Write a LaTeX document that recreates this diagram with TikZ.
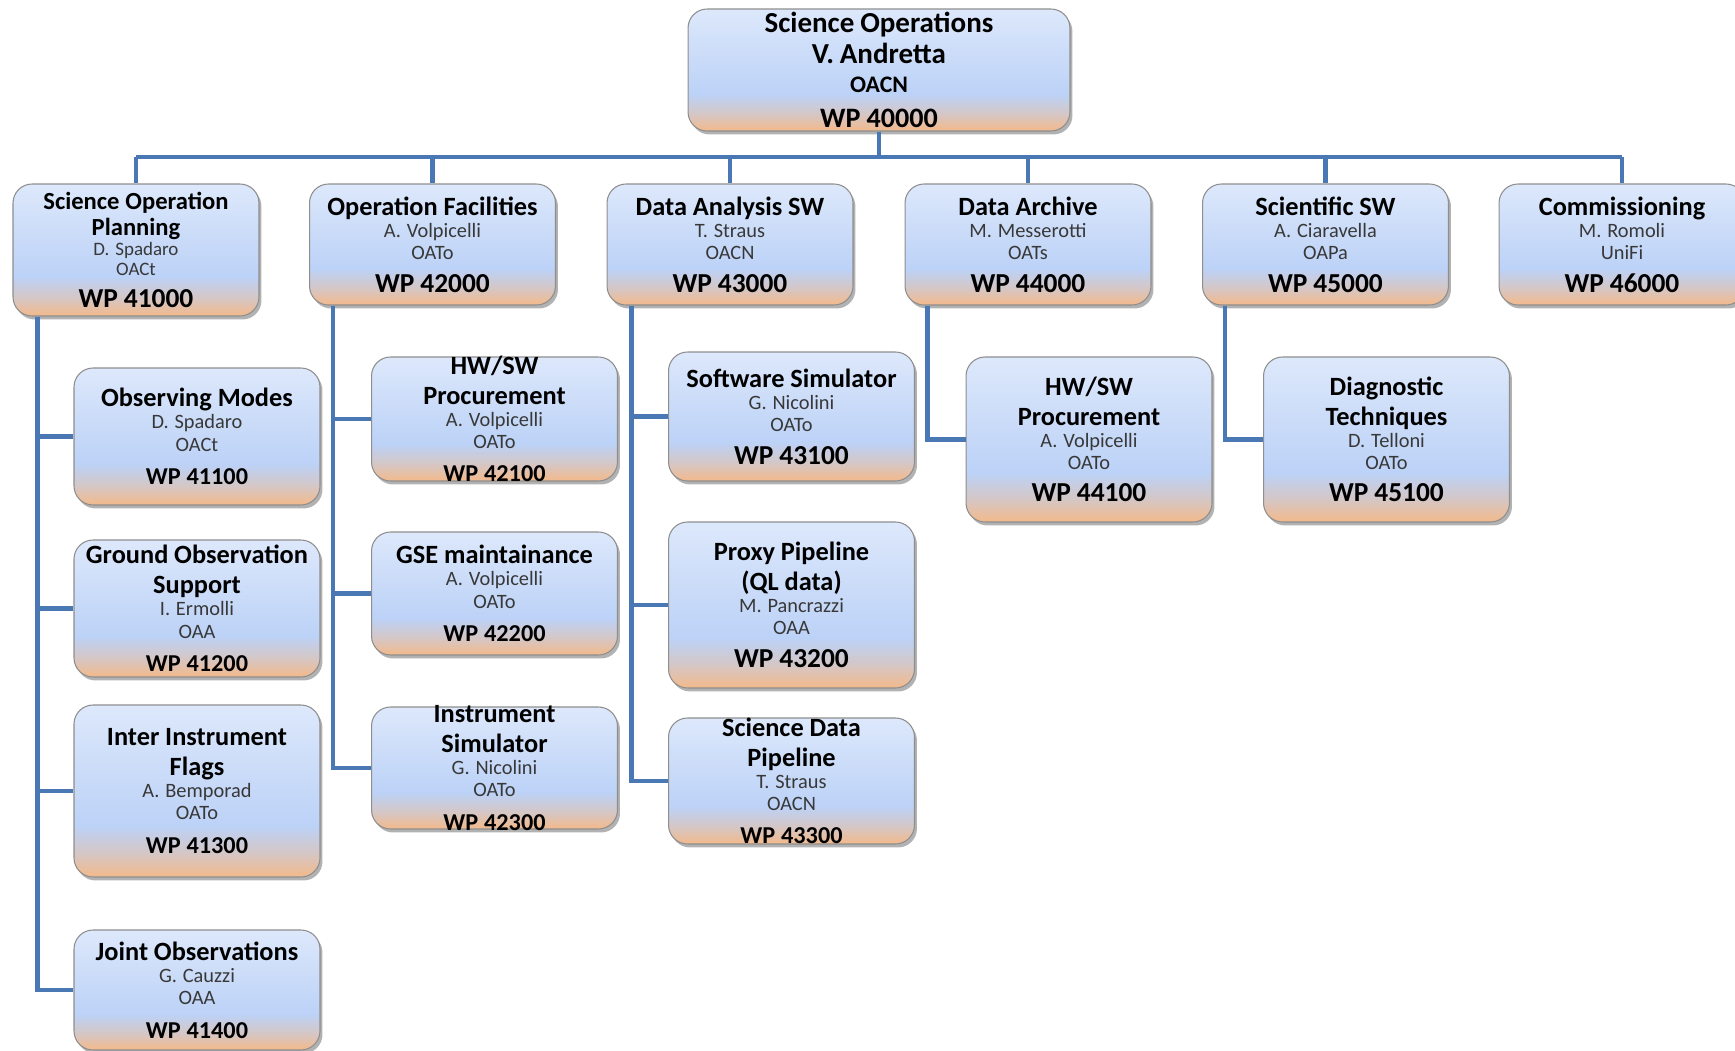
\documentclass[tikz,border=0pt]{standalone}
\usepackage{fontspec}
\setmainfont{Carlito}
\usetikzlibrary{shadows}
\definecolor{blu0}{HTML}{DDE8FB}
\definecolor{blu1}{HTML}{BCD2F7}
\definecolor{orng}{HTML}{F3B98A}
\definecolor{linkblue}{HTML}{4A78B5}
\definecolor{rim}{HTML}{8E8E8E}
\pgfdeclareverticalshading{wpfill}{100bp}{color(0bp)=(orng); color(25bp)=(orng); color(32bp)=(orng!45!blu1); color(40bp)=(blu1); color(75bp)=(blu0); color(100bp)=(blu0)}
% fonts
\newcommand\topttl{\fontsize{16.5}{17.8}\selectfont\bfseries}
\newcommand\topsub{\fontsize{13.5}{16.2}\selectfont\bfseries}
\newcommand\topwp{\fontsize{16}{20}\selectfont\bfseries}
\newcommand\ttl{\fontsize{15}{17}\selectfont\bfseries}
\newcommand\ttls{\fontsize{14}{14.8}\selectfont\bfseries}
\newcommand\nme{\fontsize{11.6}{12.6}\selectfont\color{black!78}}
\newcommand\nms{\fontsize{10.8}{11.4}\selectfont\color{black!78}}
\newcommand\wpa{\fontsize{15.6}{18.5}\selectfont\bfseries}
\newcommand\wpb{\fontsize{13.8}{19}\selectfont\bfseries}
\tikzset{
  unit/.style={draw=rim,line width=.6pt,rounded corners=.38cm,shading=wpfill,
    minimum width=4.92cm,inner sep=0pt,
    drop shadow={shadow xshift=.05cm,shadow yshift=-.07cm,opacity=.3,fill=black}},
  unittext/.style={text width=4.92cm,align=center,inner sep=0pt},
  link/.style={draw=linkblue,line width=2.3pt}
}
\newcommand\wpunit[4]{%
  \node[unit,minimum height=#3](#1)at(#2){};
  \node[unittext](#1-t)at(#1.center){#4};}
\begin{document}
\begin{tikzpicture}[x=.02cm,y=-.02cm]
\useasboundingbox(0,0)rectangle(1735,1051);
% top
\node[unit,minimum width=7.64cm,minimum height=2.44cm](so)at(879,70){};
\node[unittext,text width=7.64cm](so-t)at(so.center){{\topttl Science Operations\\V. Andretta\par}{\topsub OACN\par}{\topwp WP 40000\par}};
% first level
\wpunit{sop}{136,250}{2.64cm}{{\ttls Science Operation\\Planning\par}{\nms D. Spadaro\\OACt\par}{\wpa WP 41000\par}}
\wpunit{of}{432.5,244.5}{2.42cm}{{\ttl Operation Facilities\par}{\nme A. Volpicelli\\OATo\par}{\wpa WP 42000\par}}
\wpunit{das}{730,244.5}{2.42cm}{{\ttl Data Analysis SW\par}{\nme T. Straus\\OACN\par}{\wpa WP 43000\par}}
\wpunit{da}{1028,244.5}{2.42cm}{{\ttl Data Archive\par}{\nme M. Messerotti\\OATs\par}{\wpa WP 44000\par}}
\wpunit{ssw}{1325.5,244.5}{2.42cm}{{\ttl Scientific SW\par}{\nme A. Ciaravella\\OAPa\par}{\wpa WP 45000\par}}
\wpunit{com}{1622,244.5}{2.42cm}{{\ttl Commissioning\par}{\nme M. Romoli\\UniFi\par}{\wpa WP 46000\par}}
% second level
\wpunit{om}{197,436.5}{2.74cm}{{\ttl Observing Modes\par}{\nme D. Spadaro\\OACt\par}{\wpb WP 41100\par}}
\wpunit{gos}{197,608.5}{2.74cm}{{\ttl Ground Observation\\Support\par}{\nme I. Ermolli\\OAA\par}{\wpb WP 41200\par}}
\wpunit{iif}{197,791}{3.44cm}{{\ttl Inter Instrument\\Flags\par}{\nme A. Bemporad\\OATo\par}{\wpb WP 41300\par}}
\wpunit{jo}{197,990}{2.4cm}{{\ttl Joint Observations\par}{\nme G. Cauzzi\\OAA\par}{\wpb WP 41400\par}}
\wpunit{hwa}{494.5,419}{2.48cm}{{\ttl HW/SW\\Procurement\par}{\nme A. Volpicelli\\OATo\par}{\wpb WP 42100\par}}
\wpunit{gse}{494.5,593.5}{2.46cm}{{\ttl GSE maintainance\par}{\nme A. Volpicelli\\OATo\par}{\wpb WP 42200\par}}
\wpunit{isim}{494.5,768}{2.44cm}{{\ttl Instrument\\Simulator\par}{\nme G. Nicolini\\OATo\par}{\wpb WP 42300\par}}
\wpunit{ssim}{791.5,416.5}{2.58cm}{{\ttl Software Simulator\par}{\nme G. Nicolini\\OATo\par}{\wpa WP 43100\par}}
\wpunit{ppl}{791.5,605}{3.32cm}{{\ttl Proxy Pipeline\\(QL data)\par}{\nme M. Pancrazzi\\OAA\par}{\wpa WP 43200\par}}
\wpunit{sdp}{791.5,781}{2.52cm}{{\ttl Science Data\\Pipeline\par}{\nme T. Straus\\OACN\par}{\wpb WP 43300\par}}
\wpunit{hwb}{1089,439.5}{3.3cm}{{\ttl HW/SW\\Procurement\par}{\nme A. Volpicelli\\OATo\par}{\wpa WP 44100\par}}
\wpunit{dt}{1386.5,439.5}{3.3cm}{{\ttl Diagnostic\\Techniques\par}{\nme D. Telloni\\OATo\par}{\wpa WP 45100\par}}
% connectors
\coordinate(bus)at(879,157);
\draw[link](so.south)--(bus);
\draw[link](bus-|sop.north)--(bus-|com.north);
\foreach \u in {sop,of,das,da,ssw,com}
  \draw[link](bus-|\u.north)--(\u.north);
\foreach \c in {om,gos,iif,jo}
  \draw[link]([xshift=.5cm]sop.south west)|-(\c.west);
\foreach \c in {hwa,gse,isim}
  \draw[link]([xshift=.48cm]of.south west)|-(\c.west);
\foreach \c in {ssim,ppl,sdp}
  \draw[link]([xshift=.5cm]das.south west)|-(\c.west);
\draw[link]([xshift=.46cm]da.south west)|-(hwb.west);
\draw[link]([xshift=.46cm]ssw.south west)|-(dt.west);
\end{tikzpicture}
\end{document}
